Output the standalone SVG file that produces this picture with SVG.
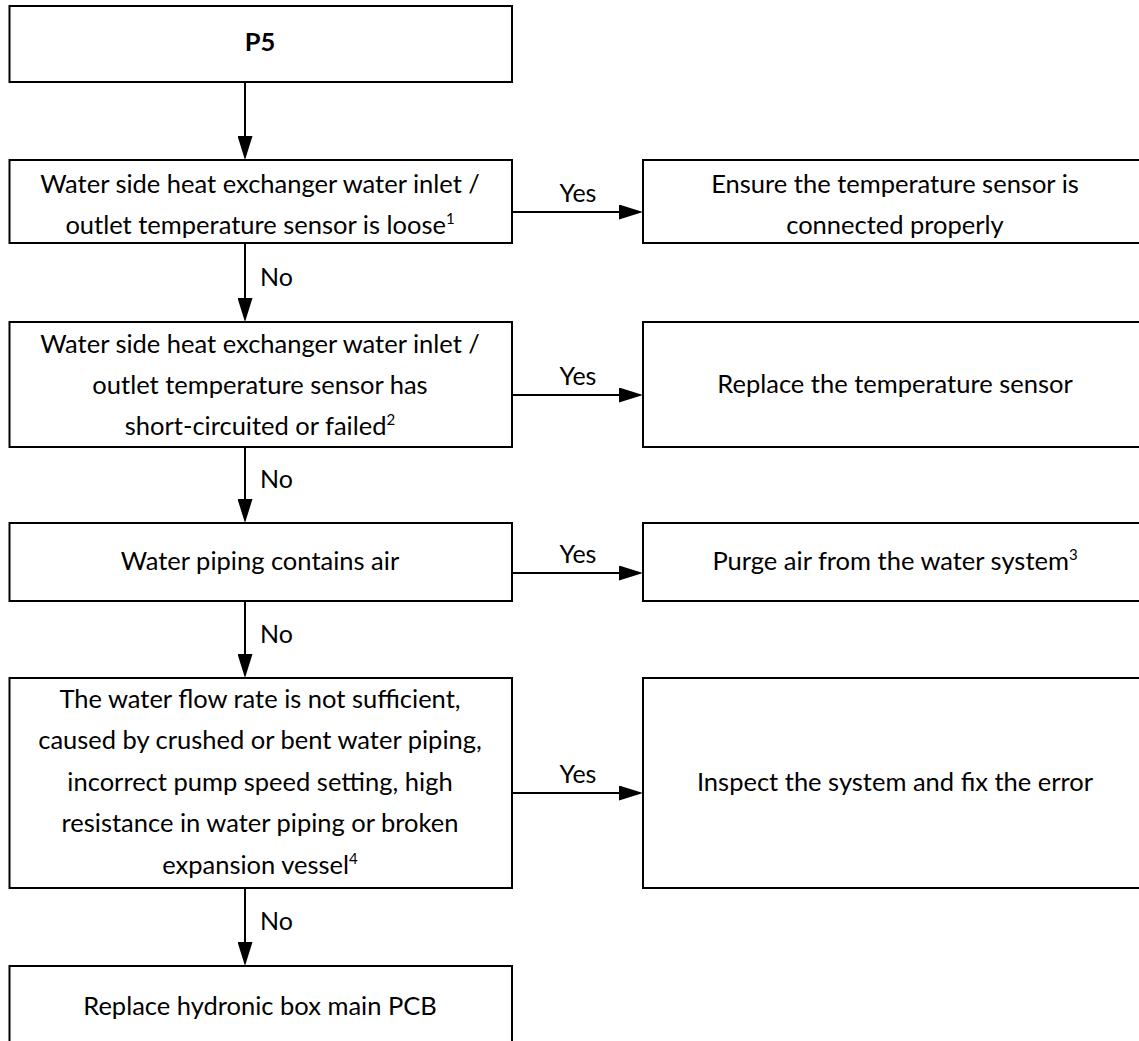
<svg xmlns="http://www.w3.org/2000/svg" width="1139" height="1041" viewBox="0 0 1139 1041">
<defs>
<marker id="ah" markerUnits="userSpaceOnUse" markerWidth="24" markerHeight="15" refX="14" refY="7.5" orient="auto">
<path d="M0,0 L24,7.5 L0,15 z" fill="#000"/>
</marker>
<style>
.box{fill:#fff;stroke:#000;stroke-width:2}
.t{font-family:Lato,"Liberation Sans",sans-serif;font-size:25.5px;fill:#000;text-anchor:middle}
.b{font-weight:bold}
.lbl{font-family:Lato,"Liberation Sans",sans-serif;font-size:25px;fill:#000}
.c{stroke:#000;stroke-width:2;fill:none;marker-end:url(#ah)}
.sup{font-size:15px}
</style>
</defs>
<rect width="1139" height="1041" fill="#fff"/>
<g id="connectors">
<line class="c" x1="245" y1="82" x2="245" y2="150"/>
<line class="c" x1="512" y1="212" x2="633" y2="212"/>
<line class="c" x1="245" y1="243" x2="245" y2="312"/>
<line class="c" x1="512" y1="395" x2="633" y2="395"/>
<line class="c" x1="245" y1="447" x2="245" y2="513"/>
<line class="c" x1="512" y1="573" x2="633" y2="573"/>
<line class="c" x1="245" y1="601" x2="245" y2="668"/>
<line class="c" x1="512" y1="793" x2="633" y2="793"/>
<line class="c" x1="245" y1="888" x2="245" y2="956"/>
<text class="lbl" x="578" y="202" text-anchor="middle">Yes</text>
<text class="lbl" x="578" y="385" text-anchor="middle">Yes</text>
<text class="lbl" x="578" y="563" text-anchor="middle">Yes</text>
<text class="lbl" x="578" y="783" text-anchor="middle">Yes</text>
<text class="lbl" x="260" y="286">No</text>
<text class="lbl" x="260" y="488">No</text>
<text class="lbl" x="260" y="643">No</text>
<text class="lbl" x="260" y="930">No</text>
</g>
<g id="n-p5">
<rect class="box" x="9.5" y="6" width="502.5" height="76"/>
<text class="t b" x="260" y="51">P5</text>
</g>
<g id="n-loose">
<rect class="box" x="9.5" y="160" width="502.5" height="83"/>
<text class="t" x="260" y="193">Water side heat exchanger water inlet /</text>
<text class="t" x="260" y="234">outlet temperature sensor is loose<tspan class="sup" dy="-10">1</tspan></text>
</g>
<g id="n-ensure">
<rect class="box" x="643" y="160" width="504" height="83"/>
<text class="t" x="895" y="193">Ensure the temperature sensor is</text>
<text class="t" x="895" y="234">connected properly</text>
</g>
<g id="n-short">
<rect class="box" x="9.5" y="322" width="502.5" height="125"/>
<text class="t" x="260" y="353">Water side heat exchanger water inlet /</text>
<text class="t" x="260" y="394">outlet temperature sensor has</text>
<text class="t" x="260" y="435">short-circuited or failed<tspan class="sup" dy="-10">2</tspan></text>
</g>
<g id="n-replace-sensor">
<rect class="box" x="643" y="322" width="504" height="125"/>
<text class="t" x="895" y="393">Replace the temperature sensor</text>
</g>
<g id="n-air">
<rect class="box" x="9.5" y="523" width="502.5" height="78"/>
<text class="t" x="260" y="570">Water piping contains air</text>
</g>
<g id="n-purge">
<rect class="box" x="643" y="523" width="504" height="78"/>
<text class="t" x="895" y="570">Purge air from the water system<tspan class="sup" dy="-10">3</tspan></text>
</g>
<g id="n-flow">
<rect class="box" x="9.5" y="678" width="502.5" height="210"/>
<text class="t" x="260" y="708">The water flow rate is not sufficient,</text>
<text class="t" x="260" y="749">caused by crushed or bent water piping,</text>
<text class="t" x="260" y="791">incorrect pump speed setting, high</text>
<text class="t" x="260" y="832">resistance in water piping or broken</text>
<text class="t" x="260" y="874">expansion vessel<tspan class="sup" dy="-10">4</tspan></text>
</g>
<g id="n-inspect">
<rect class="box" x="643" y="678" width="504" height="210"/>
<text class="t" x="895" y="791">Inspect the system and fix the error</text>
</g>
<g id="n-pcb">
<rect class="box" x="9.5" y="966" width="502.5" height="90"/>
<text class="t" x="260" y="1015">Replace hydronic box main PCB</text>
</g>
</svg>
